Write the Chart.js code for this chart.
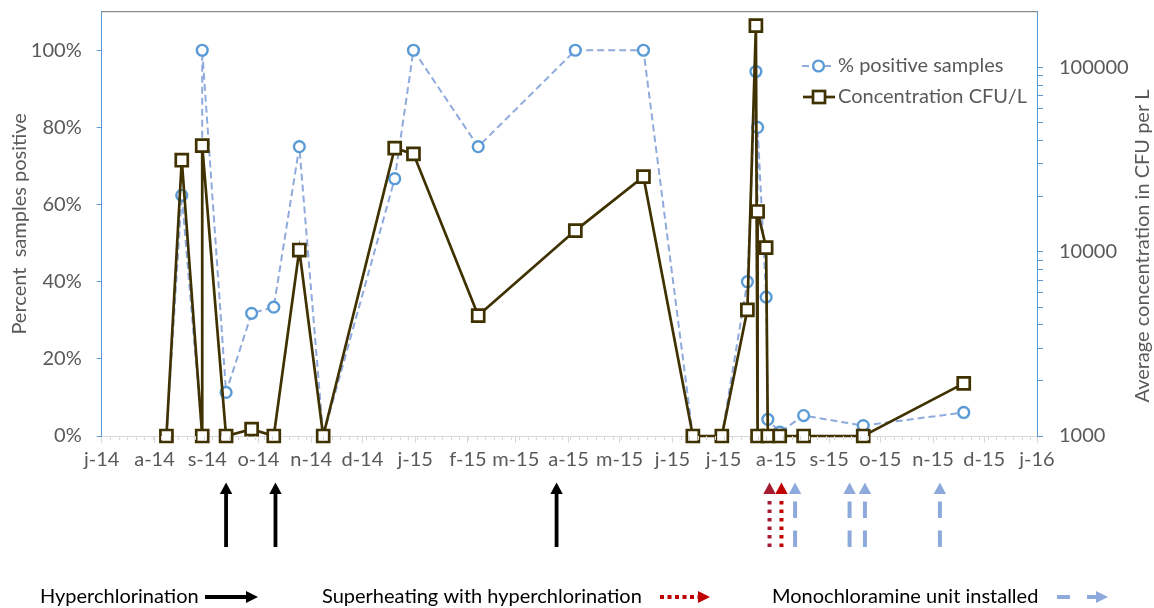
<!DOCTYPE html>
<html>
<head>
<meta charset="utf-8">
<title>Legionella samples and concentration</title>
<script src="https://cdn.jsdelivr.net/npm/chart.js@4.4.1/dist/chart.umd.min.js"></script>
<style>
  html, body { margin: 0; padding: 0; background: #fff; }
  #wrap { width: 1154px; height: 608px; position: relative; }
</style>
</head>
<body>
<div id="wrap"><canvas id="chart" width="1154" height="608"></canvas></div>
<script>
// Sample dates and the two series
const sampleDates = [
  '2014-08-08', '2014-08-17', '2014-08-29', '2014-08-29', '2014-09-12', '2014-09-27',
  '2014-10-10', '2014-10-25', '2014-11-08', '2014-12-20', '2014-12-31', '2015-02-07',
  '2015-04-05', '2015-05-15', '2015-06-13', '2015-06-30', '2015-07-15', '2015-07-20',
  '2015-07-21', '2015-07-21', '2015-07-26', '2015-07-27', '2015-08-03', '2015-08-17',
  '2015-09-21', '2015-11-19',
];
const pctPositive = [
  0, 0.624, 0, 1.0, 0.113, 0.318,
  0.334, 0.75, 0, 0.667, 1.0, 0.75,
  1.0, 1.0, 0, 0, 0.40, 0.945,
  0, 0.80, 0.36, 0.043, 0.01, 0.053,
  0.027, 0.061,
];
const concCfu = [
  1000, 31300, 1000, 37600, 1000, 1090,
  1000, 10200, 1000, 36400, 33900, 4500,
  13000, 25500, 1000, 1000, 4830, 168000,
  1000, 16500, 10500, 1000, 1000, 1000,
  1000, 1930,
];

// Axis labels
const monthLabels = ['j-14', 'a-14', 's-14', 'o-14', 'n-14', 'd-14', 'j-15', 'f-15', 'm-15', 'a-15',
  'm-15', 'j-15', 'j-15', 'a-15', 's-15', 'o-15', 'n-15', 'd-15', 'j-16'];
const pctTicks = [0, 0.2, 0.4, 0.6, 0.8, 1.0];
const concLabelled = [1000, 10000, 100000];

// Interventions shown as arrows under the axis
const hyperchlorDates = ['2014-09-12', '2014-10-11', '2015-03-25'];
const superheatDates = ['2015-07-28', '2015-08-04'];
const monochlorDates = ['2015-08-12', '2015-09-13', '2015-09-22', '2015-11-05'];

const FONT = "Lato, 'Open Sans', sans-serif";
const GREY = '#595959';
const BLUE_AXIS = '#5B9BD5';

const T0 = Date.UTC(2014, 6, 1);
const dayOf = s => (Date.parse(s) - T0) / 86400000;
const monthStarts = monthLabels.map((_, i) => (Date.UTC(2014, 6 + i, 1) - T0) / 86400000);

// log axis minor ticks: 1..9 x each decade
const concTicks = [];
concLabelled.forEach(p => {
  for (let m = 1; m <= 9; m++) if (m * p <= 100000) concTicks.push(m * p);
});

/* ─── drawing helpers for the annotation plugin ─── */

function upArrow(ctx, px, color, dash, width) {
  ctx.save();
  ctx.strokeStyle = color;
  ctx.fillStyle = color;
  ctx.lineWidth = width;
  ctx.setLineDash(dash);
  ctx.beginPath();
  ctx.moveTo(px, 547);
  ctx.lineTo(px, dash.length ? 496 : 492);
  ctx.stroke();
  ctx.setLineDash([]);
  ctx.beginPath();
  ctx.moveTo(px, 482.5);
  ctx.lineTo(px + 6.2, 494);
  ctx.lineTo(px - 6.2, 494);
  ctx.closePath();
  ctx.fill();
  ctx.restore();
}

function rightArrow(ctx, x0, x1, y, color, dash, width) {
  ctx.save();
  ctx.strokeStyle = color;
  ctx.fillStyle = color;
  ctx.lineWidth = width;
  ctx.setLineDash(dash);
  ctx.beginPath();
  ctx.moveTo(x0, y);
  ctx.lineTo(x1 - 11, y);
  ctx.stroke();
  ctx.setLineDash([]);
  ctx.beginPath();
  ctx.moveTo(x1, y);
  ctx.lineTo(x1 - 12, y - 6);
  ctx.lineTo(x1 - 12, y + 6);
  ctx.closePath();
  ctx.fill();
  ctx.restore();
}

// drop the half-label padding Chart.js adds at the ends of an axis
const noEndPadding = s => {
  s.paddingTop = 0; s.paddingBottom = 0; s.paddingLeft = 0; s.paddingRight = 0;
};

const annotate = {
  id: 'annotate',
  afterDraw(chart) {
    const { ctx, chartArea: a, scales: { x } } = chart;
    ctx.save();

    // top border of the plot area
    ctx.strokeStyle = '#8C8C8C';
    ctx.lineWidth = 1.3;
    ctx.beginPath();
    ctx.moveTo(a.left, a.top);
    ctx.lineTo(a.right, a.top);
    ctx.stroke();

    // minor ticks on the date axis
    ctx.strokeStyle = '#D9D9D9';
    ctx.lineWidth = 1;
    for (let d = 5; d < x.max; d += 5) {
      const px = Math.round(x.getPixelForValue(d)) + 0.5;
      ctx.beginPath();
      ctx.moveTo(px, a.bottom);
      ctx.lineTo(px, a.bottom + 4);
      ctx.stroke();
    }

    // right axis title, reading upwards
    ctx.save();
    ctx.translate(1143, 246);
    ctx.rotate(-Math.PI / 2);
    ctx.font = `20px ${FONT}`;
    ctx.fillStyle = GREY;
    ctx.textAlign = 'center';
    ctx.textBaseline = 'middle';
    ctx.fillText('Average concentration in CFU per L', 0, 0);
    ctx.restore();

    // legend inside the plot
    ctx.font = `20px ${FONT}`;
    ctx.fillStyle = GREY;
    ctx.textAlign = 'left';
    ctx.textBaseline = 'middle';
    ctx.strokeStyle = '#8FAADC';
    ctx.lineWidth = 2;
    ctx.setLineDash([7, 4]);
    ctx.beginPath();
    ctx.moveTo(802, 66);
    ctx.lineTo(835, 66);
    ctx.stroke();
    ctx.setLineDash([]);
    ctx.strokeStyle = '#5B9BD5';
    ctx.lineWidth = 2.4;
    ctx.fillStyle = '#fff';
    ctx.beginPath();
    ctx.arc(818.5, 66, 5.4, 0, Math.PI * 2);
    ctx.fill();
    ctx.stroke();
    ctx.fillStyle = GREY;
    ctx.fillText('% positive samples', 838, 66);

    ctx.strokeStyle = '#3F3100';
    ctx.lineWidth = 2.7;
    ctx.beginPath();
    ctx.moveTo(803, 97);
    ctx.lineTo(835, 97);
    ctx.stroke();
    ctx.fillStyle = '#fff';
    ctx.fillRect(813, 91, 12, 12);
    ctx.strokeRect(813, 91, 12, 12);
    ctx.fillStyle = GREY;
    ctx.fillText('Concentration CFU/L', 838, 97);

    // intervention arrows, placed on the date scale
    hyperchlorDates.forEach(d => upArrow(ctx, x.getPixelForValue(dayOf(d)), '#000', [], 3.8));
    superheatDates.forEach((d, i) =>
      upArrow(ctx, x.getPixelForValue(dayOf(d)), i === 0 ? '#A51C30' : '#C00000', [3.5, 5], 4));
    monochlorDates.forEach(d => upArrow(ctx, x.getPixelForValue(dayOf(d)), '#8EA9DB', [16.5, 12.5], 4));

    // key at the bottom
    ctx.font = `20px ${FONT}`;
    ctx.fillStyle = '#000';
    ctx.textBaseline = 'middle';
    ctx.fillText('Hyperchlorination', 40, 597);
    ctx.fillText('Superheating with hyperchlorination', 322, 597);
    ctx.fillText('Monochloramine unit installed', 772, 597);
    rightArrow(ctx, 205, 258, 597, '#000', [], 4);
    rightArrow(ctx, 660, 710, 597, '#C00000', [4, 3.5], 4);
    rightArrow(ctx, 1057, 1108, 597, '#8EA9DB', [13, 17], 4);

    ctx.restore();
  },
};

new Chart(document.getElementById('chart'), {
  type: 'line',
  data: {
    datasets: [
      {
        label: '% positive samples',
        data: sampleDates.map((d, i) => ({ x: dayOf(d), y: pctPositive[i] })),
        yAxisID: 'y',
        order: 2,
        borderColor: '#8FAADC',
        borderDash: [7, 4],
        borderWidth: 2,
        pointStyle: 'circle',
        pointRadius: 5.4,
        pointBorderWidth: 2.4,
        pointBorderColor: '#5B9BD5',
        pointBackgroundColor: '#fff',
        tension: 0,
        clip: false,
      },
      {
        label: 'Concentration CFU/L',
        data: sampleDates.map((d, i) => ({ x: dayOf(d), y: concCfu[i] })),
        yAxisID: 'y1',
        order: 1,
        borderColor: '#3F3100',
        borderWidth: 2.7,
        pointStyle: 'rect',
        pointRadius: 8.5,
        pointBorderWidth: 2.7,
        pointBorderColor: '#3F3100',
        pointBackgroundColor: '#fff',
        tension: 0,
        clip: false,
      },
    ],
  },
  options: {
    responsive: false,
    animation: false,
    layout: { autoPadding: false, padding: { top: 11.7, left: 0, right: 0, bottom: 0 } },
    plugins: { legend: { display: false }, tooltip: { enabled: false } },
    scales: {
      x: {
        type: 'linear',
        min: 0,
        max: monthStarts[monthStarts.length - 1],
        afterBuildTicks: s => { s.ticks = monthStarts.map(v => ({ value: v })); },
        afterFit: s => { s.height = 172; noEndPadding(s); },
        ticks: {
          autoSkip: false, maxRotation: 0, minRotation: 0, padding: 5,
          color: GREY, font: { family: FONT, size: 20 },
          callback: (v, i) => monthLabels[i],
        },
        grid: { drawOnChartArea: false, tickLength: 7, color: '#D9D9D9' },
        border: { color: '#D9D9D9' },
      },
      y: {
        position: 'left',
        min: 0,
        max: 1.1,
        afterBuildTicks: s => { s.ticks = pctTicks.map(v => ({ value: v })); },
        afterFit: s => { s.width = 101.7; noEndPadding(s); },
        ticks: {
          autoSkip: false, padding: 15, color: GREY, font: { family: FONT, size: 20 },
          callback: v => Math.round(v * 100) + '%',
        },
        title: {
          display: true, text: 'Percent  samples positive', color: GREY,
          font: { family: FONT, size: 20 }, padding: { top: 8, bottom: 0 },
        },
        grid: { drawOnChartArea: false, tickLength: 5, color: BLUE_AXIS },
        border: { color: BLUE_AXIS },
      },
      y1: {
        type: 'logarithmic',
        position: 'right',
        min: 1000,
        max: 200000,
        afterBuildTicks: s => { s.ticks = concTicks.map(v => ({ value: v })); },
        afterFit: s => { s.width = 117; noEndPadding(s); },
        ticks: {
          autoSkip: false, padding: 16, color: GREY, font: { family: FONT, size: 20 },
          callback: v => (concLabelled.includes(v) ? String(v) : ''),
        },
        grid: { drawOnChartArea: false, tickLength: 6, color: BLUE_AXIS },
        border: { color: BLUE_AXIS },
      },
    },
  },
  plugins: [annotate],
});
</script>
</body>
</html>
